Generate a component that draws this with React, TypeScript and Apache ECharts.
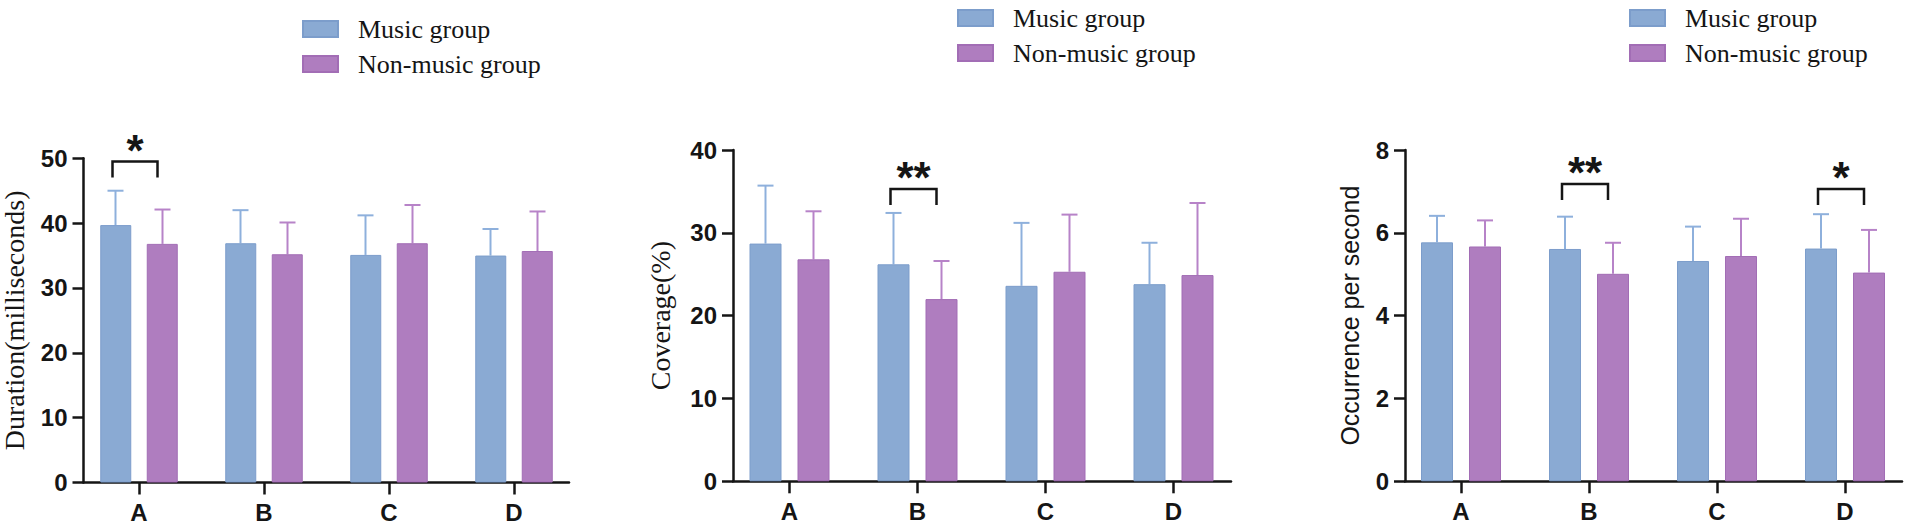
import React, { useEffect, useRef } from 'react';
import * as echarts from 'echarts';

const categories = ['A', 'B', 'C', 'D'];
const seriesNames = ['Music group', 'Non-music group'];

const durationMusic = [39.7, 36.9, 35.1, 35.0];
const durationMusicSD = [5.3, 5.1, 6.1, 4.1];
const durationNonMusic = [36.8, 35.2, 36.9, 35.7];
const durationNonMusicSD = [5.3, 4.9, 5.9, 6.1];

const coverageMusic = [28.7, 26.2, 23.6, 23.8];
const coverageMusicSD = [7.0, 6.2, 7.6, 5.0];
const coverageNonMusic = [26.8, 22.0, 25.3, 24.9];
const coverageNonMusicSD = [5.8, 4.6, 6.9, 8.7];

const occurrenceMusic = [5.77, 5.61, 5.32, 5.62];
const occurrenceMusicSD = [0.64, 0.78, 0.83, 0.83];
const occurrenceNonMusic = [5.67, 5.01, 5.44, 5.04];
const occurrenceNonMusicSD = [0.63, 0.75, 0.9, 1.03];

// significance brackets: [category index, bracket height, label]
const durationSig: [number, number, string][] = [[0, 49.5, '*']];
const coverageSig: [number, number, string][] = [[1, 35.3, '**']];
const occurrenceSig: [number, number, string][] = [[1, 7.18, '**'], [3, 7.06, '*']];

const yNames = ['Duration(milliseconds)', 'Coverage(%)', 'Occurrence per second'];
const yMaxes = [50, 40, 8];
const yIntervals = [10, 10, 2];

const BLUE = '#8AAAD3';
const BLUE_BORDER = '#7C9DCB';
const BLUE_ERR = '#8EB0DC';
const PURPLE = '#AF7DBF';
const PURPLE_BORDER = '#A26DB5';
const PURPLE_ERR = '#B783C8';
const INK = '#151515';

const panels = [
  {
    music: durationMusic, musicSD: durationMusicSD, non: durationNonMusic, nonSD: durationNonMusicSD, sig: durationSig,
    axisX: 83.5, firstCat: 139, step: 125, axisEnd: 569, top: 158.3, bottom: 482.5, barWidth: 31,
    nameGap: 55, nameFont: 'Liberation Serif', nameSize: 28, legendLeft: 297, legendTop: 11,
  },
  {
    music: coverageMusic, musicSD: coverageMusicSD, non: coverageNonMusic, nonSD: coverageNonMusicSD, sig: coverageSig,
    axisX: 733, firstCat: 789.5, step: 128, axisEnd: 1231, top: 150, bottom: 481.3, barWidth: 32,
    nameGap: 59, nameFont: 'Liberation Serif', nameSize: 28, legendLeft: 952, legendTop: 0,
  },
  {
    music: occurrenceMusic, musicSD: occurrenceMusicSD, non: occurrenceNonMusic, nonSD: occurrenceNonMusicSD, sig: occurrenceSig,
    axisX: 1405, firstCat: 1461, step: 128, axisEnd: 1902, top: 150, bottom: 481.3, barWidth: 32,
    nameGap: 43, nameFont: 'Liberation Sans', nameSize: 25, legendLeft: 1624, legendTop: 0,
  },
];

function buildOption() {
  const grid: any[] = [];
  const xAxis: any[] = [];
  const yAxis: any[] = [];
  const legend: any[] = [];
  const series: any[] = [];

  panels.forEach((p, i) => {
    const a = 2 * i;
    const b = 2 * i + 1;
    const height = p.bottom - p.top;
    const gap = 16;
    const off = (p.barWidth + gap) / 2;

    grid.push({ left: p.firstCat - p.step / 2, width: p.step * 4, top: p.top, height, outerBoundsMode: 'none' });
    grid.push({ left: p.axisX, width: p.axisEnd - p.axisX, top: p.top, height, outerBoundsMode: 'none' });

    xAxis.push({
      type: 'category', gridIndex: a, data: categories,
      axisLine: { show: false },
      axisTick: { show: true, alignWithLabel: true, length: 12, lineStyle: { color: INK, width: 2.5 } },
      axisLabel: { fontFamily: 'Liberation Sans', fontWeight: 'bold', fontSize: 24, color: INK, margin: 18 },
      splitLine: { show: false },
    });
    xAxis.push({
      type: 'value', gridIndex: b, min: 0, max: 1,
      axisLine: { show: true, lineStyle: { color: INK, width: 2.5 } },
      axisTick: { show: false }, axisLabel: { show: false }, splitLine: { show: false },
    });

    yAxis.push({
      type: 'value', gridIndex: a, min: 0, max: yMaxes[i], interval: yIntervals[i], show: false,
      splitLine: { show: false },
    });
    yAxis.push({
      type: 'value', gridIndex: b, min: 0, max: yMaxes[i], interval: yIntervals[i],
      name: yNames[i], nameLocation: 'middle', nameGap: p.nameGap,
      nameTextStyle: { fontFamily: p.nameFont, fontSize: p.nameSize, color: INK },
      axisLine: { show: true, lineStyle: { color: INK, width: 2.5 } },
      axisTick: { show: true, length: 11, lineStyle: { color: INK, width: 2.5 } },
      axisLabel: { fontFamily: 'Liberation Sans', fontWeight: 'bold', fontSize: 24, color: INK, margin: 16 },
      splitLine: { show: false },
    });

    legend.push({
      data: seriesNames, orient: 'vertical', left: p.legendLeft, top: p.legendTop,
      itemWidth: 35, itemHeight: 16, itemGap: 9, icon: 'rect',
      selectedMode: false,
      textStyle: { fontFamily: 'Liberation Serif', fontSize: 26, color: INK, padding: [0, 0, 0, 15] },
    });

    const barCommon = { type: 'bar', xAxisIndex: a, yAxisIndex: a, barWidth: p.barWidth, barGap: '50%', z: 2 };
    series.push({
      ...barCommon, name: seriesNames[0], data: p.music,
      itemStyle: { color: BLUE, borderColor: BLUE_BORDER, borderWidth: 1 },
    });
    series.push({
      ...barCommon, name: seriesNames[1], data: p.non,
      itemStyle: { color: PURPLE, borderColor: PURPLE_BORDER, borderWidth: 1 },
    });

    const errSeries = (means: number[], sds: number[], dx: number, color: string) => ({
      type: 'custom', name: 'error', xAxisIndex: a, yAxisIndex: a, silent: true, z: 1, clip: false,
      data: means.map((m, k) => [k, m, m + sds[k]]),
      renderItem: (_params: any, api: any) => {
        const base = api.coord([api.value(0), api.value(1)]);
        const end = api.coord([api.value(0), api.value(2)]);
        const x = base[0] + dx;
        const st = { stroke: color, lineWidth: 2 };
        return {
          type: 'group',
          children: [
            { type: 'line', shape: { x1: x, y1: base[1], x2: x, y2: end[1] }, style: st },
            { type: 'line', shape: { x1: x - 8, y1: end[1], x2: x + 8, y2: end[1] }, style: st },
          ],
        };
      },
    });
    series.push(errSeries(p.music, p.musicSD, -off, BLUE_ERR));
    series.push(errSeries(p.non, p.nonSD, off, PURPLE_ERR));

    const sig = p.sig;
    series.push({
      type: 'custom', name: 'significance', xAxisIndex: a, yAxisIndex: a, silent: true, z: 5, clip: false,
      data: sig.map((s) => [s[0], s[1]]),
      renderItem: (params: any, api: any) => {
        const c = api.coord([api.value(0), api.value(1)]);
        const xl = c[0] - off - 3;
        const xr = c[0] + off - 5;
        const y = c[1];
        return {
          type: 'group',
          children: [
            {
              type: 'polyline',
              shape: { points: [[xl, y + 16], [xl, y], [xr, y], [xr, y + 16]] },
              style: { stroke: INK, lineWidth: 2.5, fill: null },
            },
            {
              type: 'text',
              style: {
                text: sig[params.dataIndex][2], x: (xl + xr) / 2, y: y - 11,
                align: 'center', verticalAlign: 'middle',
                fontFamily: 'Liberation Sans', fontWeight: 'bold', fontSize: 44, fill: INK,
              },
            },
          ],
        };
      },
    });
  });

  return { animation: false, backgroundColor: '#ffffff', grid, xAxis, yAxis, legend, series };
}

export default function App() {
  const ref = useRef<HTMLDivElement>(null);
  useEffect(() => {
    if (!ref.current) return;
    const chart = echarts.init(ref.current, undefined, { renderer: 'svg' });
    chart.setOption(buildOption() as any);
    return () => chart.dispose();
  }, []);
  return (
    <div
      ref={ref}
      style={{ position: 'fixed', left: 0, top: 0, width: 1907, height: 526, background: '#fff' }}
    />
  );
}
